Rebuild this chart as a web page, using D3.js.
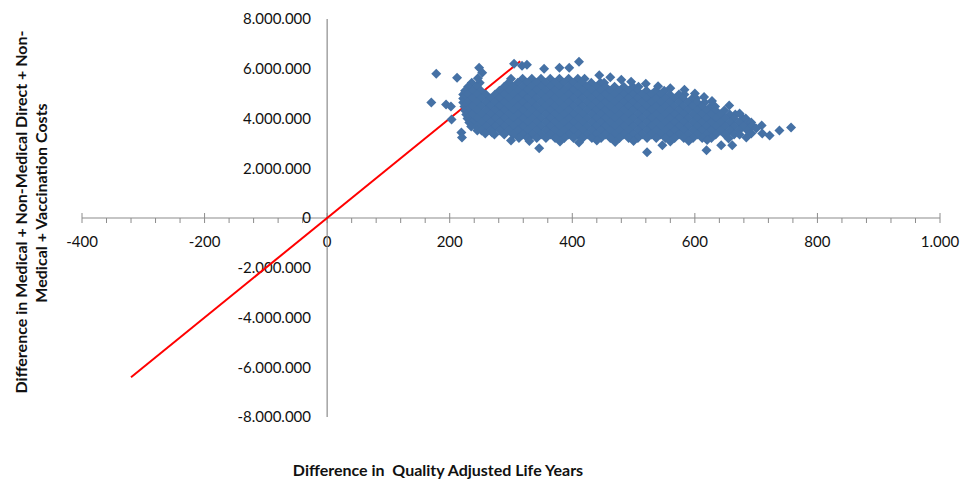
<!DOCTYPE html>
<html>
<head>
<meta charset="utf-8">
<script src="https://cdn.jsdelivr.net/npm/d3@7"></script>
<style>
  html, body { margin: 0; padding: 0; background: #ffffff; }
  svg { display: block; }
  text { font-family: "Lato", "Open Sans", sans-serif; fill: #111; }
</style>
</head>
<body>
<svg id="chart" width="970" height="479"></svg>
<script>
// ---------- DATA ----------
const xTicks = [-400, -200, 0, 200, 400, 600, 800, 1000];
const yTicks = [-8000000, -6000000, -4000000, -2000000, 0, 2000000, 4000000, 6000000, 8000000];

// Threshold line (willingness-to-pay), end points
const wtpQaly = [-320, 315];
const wtpCost = [-6400000, 6300000];

// Scatter cloud, read row by row: cost level of a row and the QALY values in that row
const costLevels = [5600000, 5440000, 5280000, 5120000, 4960000, 4800000, 4640000, 4480000,
                    4320000, 4160000, 4000000, 3840000, 3680000, 3520000, 3360000, 3220000];
const qalyRows = [
  [300, 319, 334, 349, 364, 379, 394, 409, 420],
  [236, 249, 296, 311, 326, 341, 356, 371, 386, 401, 416, 431, 446, 452],
  [230, 244, 289, 304, 319, 334, 349, 364, 379, 394, 409, 424, 439, 454, 469, 484, 499, 508],
  [225, 237, 251, 281, 296, 311, 326, 341, 356, 371, 386, 401, 416, 431, 446, 461, 476, 491, 506, 521, 536, 550],
  [222, 229, 244, 259, 274, 289, 304, 319, 334, 349, 364, 379, 394, 409, 424, 439, 454, 469, 484, 499, 514, 529, 544, 559, 574, 583],
  [222, 236, 251, 266, 281, 296, 311, 326, 341, 356, 371, 386, 401, 416, 431, 446, 461, 476, 491, 506, 521, 536, 551, 566, 581, 596, 602],
  [222, 229, 244, 259, 274, 289, 304, 319, 334, 349, 364, 379, 394, 409, 424, 439, 454, 469, 484, 499, 514, 529, 544, 559, 574, 589, 604, 616],
  [224, 236, 251, 266, 281, 296, 311, 326, 341, 356, 371, 386, 401, 416, 431, 446, 461, 476, 491, 506, 521, 536, 551, 566, 581, 596, 611, 626, 633],
  [225, 229, 244, 259, 274, 289, 304, 319, 334, 349, 364, 379, 394, 409, 424, 439, 454, 469, 484, 499, 514, 529, 544, 559, 574, 589, 604, 619, 634, 648],
  [227, 237, 252, 267, 282, 297, 312, 327, 342, 357, 372, 387, 402, 417, 432, 447, 462, 477, 492, 507, 522, 537, 552, 567, 582, 597, 612, 627, 642, 657, 666],
  [229, 244, 259, 274, 289, 304, 319, 334, 349, 364, 379, 394, 409, 424, 439, 454, 469, 484, 499, 514, 529, 544, 559, 574, 589, 604, 619, 634, 649, 664, 679, 683],
  [232, 237, 252, 267, 282, 297, 312, 327, 342, 357, 372, 387, 402, 417, 432, 447, 462, 477, 492, 507, 522, 537, 552, 567, 582, 597, 612, 627, 642, 657, 672, 687, 692],
  [235, 244, 259, 274, 289, 304, 319, 334, 349, 364, 379, 394, 409, 424, 439, 454, 469, 484, 499, 514, 529, 544, 559, 574, 589, 604, 619, 634, 649, 664, 679, 692],
  [245, 252, 267, 282, 297, 312, 327, 342, 357, 372, 387, 402, 417, 432, 447, 462, 477, 492, 507, 522, 537, 552, 567, 582, 597, 612, 627, 642, 657, 672, 686],
  [273, 289, 304, 319, 334, 349, 364, 379, 394, 409, 424, 439, 454, 469, 484, 499, 514, 529, 544, 559, 574, 589, 604, 619, 634, 649, 664, 673],
  [313, 327, 342, 357, 372, 387, 402, 417, 432, 447, 462, 477, 492, 507, 522, 537, 552, 567, 582, 597, 612, 627]
];

// Scattered points around the edges of the cloud
const edgeQaly = [178, 212, 170, 194, 202, 203, 219, 220, 248, 253, 246, 269, 305, 318, 326, 354, 379, 395, 411,
                  346, 411, 583, 522, 547, 619, 643,
                  444, 462, 480, 496, 520, 540, 560, 600, 615, 628,
                  300, 330, 380, 440, 470, 500, 560, 590, 620, 655, 258,
                  656, 673, 694, 709, 692, 710, 722, 738, 757, 684, 661, 700];
const edgeCost = [5800000, 5640000, 4640000, 4560000, 4480000, 3960000, 3440000, 3240000, 6040000, 5840000, 5620000, 3440000, 6200000, 6120000, 6160000, 6000000, 6040000, 6040000, 6280000,
                  2800000, 3040000, 5160000, 2640000, 2920000, 2720000, 2920000,
                  5740000, 5660000, 5560000, 5480000, 5400000, 5300000, 5220000, 5000000, 4860000, 4700000,
                  3120000, 3100000, 3080000, 3120000, 3060000, 3100000, 3080000, 3100000, 3140000, 3200000, 3400000,
                  4520000, 4200000, 3720000, 3720000, 3400000, 3400000, 3320000, 3520000, 3640000, 3240000, 2920000, 3600000];

const xTitle = "Difference in  Quality Adjusted Life Years";
const yTitleLines = ["Difference in Medical + Non-Medical Direct + Non-", "Medical + Vaccination Costs"];

// ---------- CHART ----------
const svg = d3.select("#chart");
const x = d3.scaleLinear().domain([-400, 1000]).range([82, 940]);
const y = d3.scaleLinear().domain([-8000000, 8000000]).range([417, 19]);

const locale = d3.formatLocale({decimal: ",", thousands: ".", grouping: [3], currency: ["", ""], minus: "-"});
const fmt = locale.format(",d");
const axisColor = "#8c8c8c";

// X axis (crosses at cost 0)
const x0 = y(0);
const xAxis = svg.append("g").attr("transform", `translate(0,${x0})`);
xAxis.append("line").attr("x1", x(-400)).attr("x2", x(1000)).attr("stroke", axisColor).attr("stroke-width", 1.2);
const minorTicks = d3.range(-400, 1001, 40).filter(v => xTicks.indexOf(v) < 0);
xAxis.selectAll(".minor").data(minorTicks).join("line")
  .attr("x1", d => x(d)).attr("x2", d => x(d)).attr("y1", 0).attr("y2", 5)
  .attr("stroke", axisColor).attr("stroke-width", 1);
xAxis.selectAll(".major").data(xTicks).join("line")
  .attr("x1", d => x(d)).attr("x2", d => x(d)).attr("y1", -5).attr("y2", 5)
  .attr("stroke", axisColor).attr("stroke-width", 1);
xAxis.selectAll(".xl").data(xTicks).join("text")
  .attr("x", d => x(d)).attr("y", 24).attr("dy", "0.35em")
  .attr("text-anchor", "middle").style("font-size", "15px")
  .text(d => fmt(d));

// Y axis (crosses at QALY 0)
const y0 = x(0);
svg.append("line").attr("x1", y0).attr("x2", y0).attr("y1", y(8000000)).attr("y2", y(-8000000))
  .attr("stroke", axisColor).attr("stroke-width", 1.2);
svg.selectAll(".yl").data(yTicks).join("text")
  .attr("x", 311).attr("y", d => y(d)).attr("dy", "0.35em")
  .attr("text-anchor", "end").style("font-size", "15px")
  .text(d => fmt(d));

// Threshold line
const wtp = wtpQaly.map((q, i) => ({q, c: wtpCost[i]}));
svg.append("path").datum(wtp)
  .attr("d", d3.line().x(d => x(d.q)).y(d => y(d.c)))
  .attr("stroke", "#ff0000").attr("stroke-width", 2).attr("fill", "none");

// Scatter points
const points = [];
costLevels.forEach((c, i) => qalyRows[i].forEach(q => points.push({q, c})));
edgeQaly.forEach((q, i) => points.push({q, c: edgeCost[i]}));

const diamond = d3.symbol().type(d3.symbolSquare).size(50);
svg.append("g").selectAll("path").data(points).join("path")
  .attr("d", diamond)
  .attr("transform", d => `translate(${x(d.q)},${y(d.c)}) rotate(45)`)
  .attr("fill", "#4571a5");

// Titles
svg.append("text").attr("x", 438).attr("y", 476).attr("text-anchor", "middle")
  .style("font-size", "16px").style("font-weight", "bold")
  .attr("xml:space", "preserve")
  .text(xTitle);

const yT = svg.append("text").attr("transform", "rotate(-90)")
  .attr("text-anchor", "middle").style("font-size", "16px").style("font-weight", "bold");
yT.append("tspan").attr("x", -212).attr("y", 27).text(yTitleLines[0]);
yT.append("tspan").attr("x", -203).attr("y", 47).text(yTitleLines[1]);
</script>
</body>
</html>
